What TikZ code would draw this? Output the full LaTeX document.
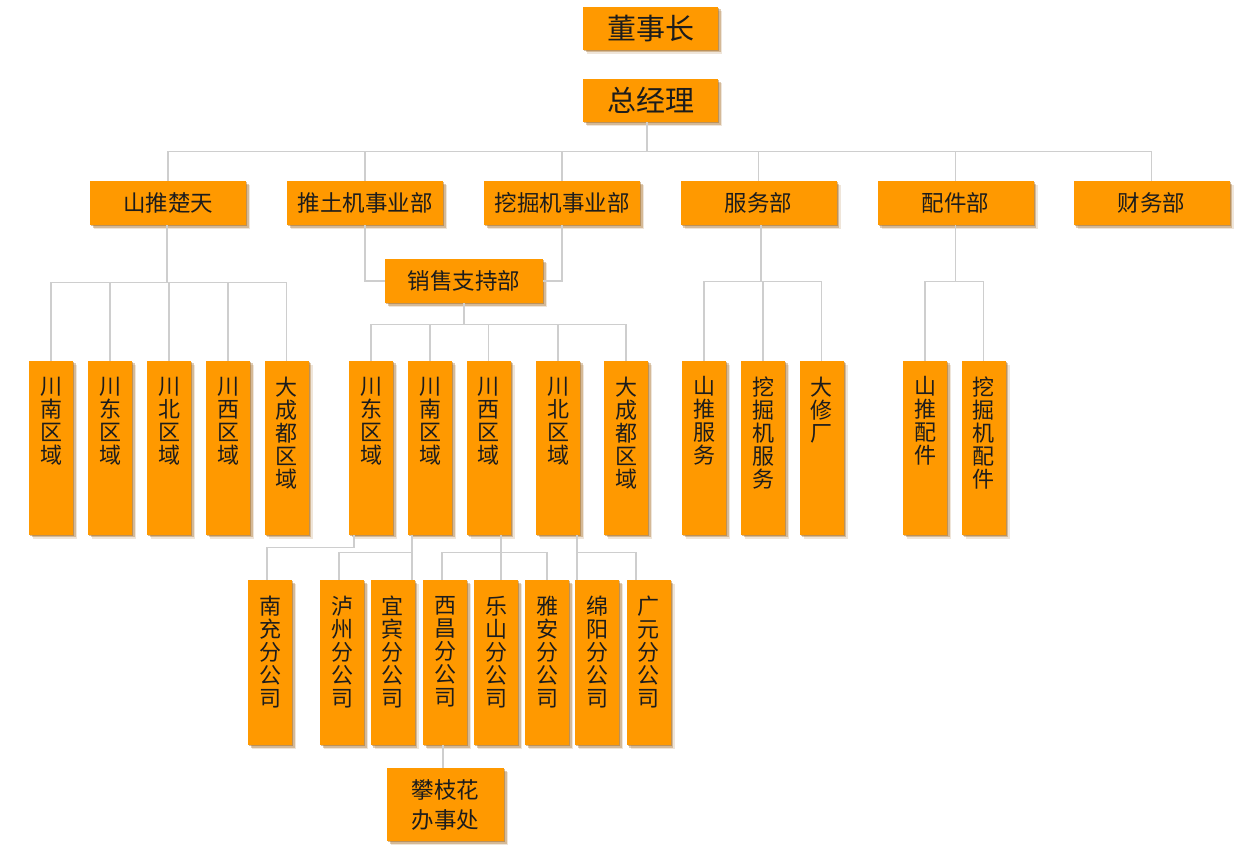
\documentclass[tikz,border=0pt]{standalone}
\usepackage{fontspec}
\setmainfont{Noto Sans CJK SC}
\usetikzlibrary{shadows}
\definecolor{org}{RGB}{255,153,0}
\definecolor{shcol}{RGB}{150,85,0}
\definecolor{lin}{RGB}{206,206,206}
\definecolor{txt}{RGB}{28,28,28}
\newcommand\vt[2]{\parbox[c][#1][t]{44pt}{\centering\fontsize{22}{23}\selectfont\vspace*{16pt}#2\par}}
\begin{document}
\begin{tikzpicture}[x=1pt,y=-1pt,
  shd/.style={drop shadow={shadow xshift=4pt,shadow yshift=-4pt,opacity=.15,fill=shcol},
              drop shadow={shadow xshift=2.5pt,shadow yshift=-2.5pt,opacity=.3,fill=shcol},
              drop shadow={shadow xshift=1.2pt,shadow yshift=-1.2pt,opacity=.4,fill=shcol}},
  orgbox/.style={fill=org,draw=none,inner sep=0pt,text=txt,shd},
  tb/.style={orgbox,minimum width=135pt,minimum height=43pt,font=\fontsize{29}{32}\selectfont},
  hb/.style={orgbox,minimum width=156pt,minimum height=44pt,font=\fontsize{22.5}{26}\selectfont},
  vb/.style={orgbox,anchor=north},
  conn/.style={draw=lin,line width=1.2pt}]
\useasboundingbox[fill=white] (0,0) rectangle (1260,859);

% top
\node[tb] (chair) at (650.5,28.5) {董事长};
\node[tb] (gm) at (650.5,100.5) {总经理};

% row 2
\node[hb] (st) at (168,203) {山推楚天};
\node[hb] (tj) at (365,203) {推土机事业部};
\node[hb] (wj) at (562,203) {挖掘机事业部};
\node[hb] (fw) at (758.5,203) {服务部};
\node[hb] (pj) at (955.5,203) {配件部};
\node[hb] (cw) at (1151.5,203) {财务部};
\node[hb,minimum width=158pt] (xs) at (464,281) {销售支持部};

% row 3
\node[vb] (a1) at (51,360.5) {\vt{174pt}{川\\南\\区\\域}};
\node[vb] (a2) at (110,360.5) {\vt{174pt}{川\\东\\区\\域}};
\node[vb] (a3) at (169,360.5) {\vt{174pt}{川\\北\\区\\域}};
\node[vb] (a4) at (228,360.5) {\vt{174pt}{川\\西\\区\\域}};
\node[vb] (a5) at (286.5,360.5) {\vt{174pt}{大\\成\\都\\区\\域}};

\node[vb] (b1) at (371,360.5) {\vt{174pt}{川\\东\\区\\域}};
\node[vb] (b2) at (430,360.5) {\vt{174pt}{川\\南\\区\\域}};
\node[vb] (b3) at (488.5,360.5) {\vt{174pt}{川\\西\\区\\域}};
\node[vb] (b4) at (558,360.5) {\vt{174pt}{川\\北\\区\\域}};
\node[vb] (b5) at (626,360.5) {\vt{174pt}{大\\成\\都\\区\\域}};

\node[vb] (c1) at (704,360.5) {\vt{174pt}{山\\推\\服\\务}};
\node[vb] (c2) at (763,360.5) {\vt{174pt}{挖\\掘\\机\\服\\务}};
\node[vb] (c3) at (821.5,360.5) {\vt{174pt}{大\\修\\厂}};

\node[vb] (d1) at (925,360.5) {\vt{174pt}{山\\推\\配\\件}};
\node[vb] (d2) at (983.5,360.5) {\vt{174pt}{挖\\掘\\机\\配\\件}};

% row 4
\node[vb] (e1) at (270,580) {\vt{165pt}{南\\充\\分\\公\\司}};
\node[vb] (e2) at (342,580) {\vt{165pt}{泸\\州\\分\\公\\司}};
\node[vb] (e3) at (392.5,580) {\vt{165pt}{宜\\宾\\分\\公\\司}};
\node[vb] (e4) at (445,580) {\vt{165pt}{西\\昌\\分\\公\\司}};
\node[vb] (e5) at (496,580) {\vt{165pt}{乐\\山\\分\\公\\司}};
\node[vb] (e6) at (547,580) {\vt{165pt}{雅\\安\\分\\公\\司}};
\node[vb] (e7) at (597,580) {\vt{165pt}{绵\\阳\\分\\公\\司}};
\node[vb] (e8) at (648.5,580) {\vt{165pt}{广\\元\\分\\公\\司}};

% row 5
\node[orgbox,minimum width=117pt,minimum height=73pt,align=center,
      font=\fontsize{22.5}{30}\selectfont] (pz) at (445.5,804.5) {攀枝花\\办事处};

% connectors: top level
\foreach \c in {st,tj,wj,fw,pj,cw}
  \draw[conn] ([xshift=-3.5pt]gm.south) -- ++(0,29.5) -| (\c.north);

% sales support
\draw[conn] (tj.south) |- (xs.west);
\draw[conn] (wj.south) |- (xs.east);

% group A
\foreach \c in {a1,a2,a3,a4,a5}
  \draw[conn] ([xshift=-1pt]st.south) -- ++(0,57) -| (\c.north);
% group B
\foreach \c in {b1,b2,b3,b4,b5}
  \draw[conn] (xs.south) -- ++(0,21) -| (\c.north);
% group C
\foreach \c in {c1,c2,c3}
  \draw[conn] ([xshift=2.5pt]fw.south) -- ++(0,56) -| (\c.north);
% group D
\foreach \c in {d1,d2}
  \draw[conn] (pj.south) -- ++(0,56) -| (\c.north);

% row 4 connectors
\draw[conn] ([xshift=-17pt]b1.south) -- ++(0,12.5) -| ([xshift=-3pt]e1.north);
\draw[conn] ([xshift=-18pt]b2.south) -- ([xshift=19.5pt]e3.north);
\draw[conn] ([xshift=-18pt]b2.south) -- ++(0,17.5) -| ([xshift=-3pt]e2.north);
\draw[conn] ([xshift=12.5pt]b3.south) -- ([xshift=5pt]e5.north);
\draw[conn] ([xshift=12.5pt]b3.south) -- ++(0,17.5) -| ([xshift=-3pt]e4.north);
\draw[conn] ([xshift=12.5pt]b3.south) -- ++(0,17.5) -| (e6.north);
\draw[conn] ([xshift=19pt]b4.south) -- ([xshift=-20pt]e7.north);
\draw[conn] ([xshift=19pt]b4.south) -- ++(0,17.5) -| ([xshift=-12.5pt]e8.north);
\draw[conn] ([xshift=-2pt]e4.south) -- ([xshift=-2.5pt]pz.north);
\end{tikzpicture}
\end{document}
